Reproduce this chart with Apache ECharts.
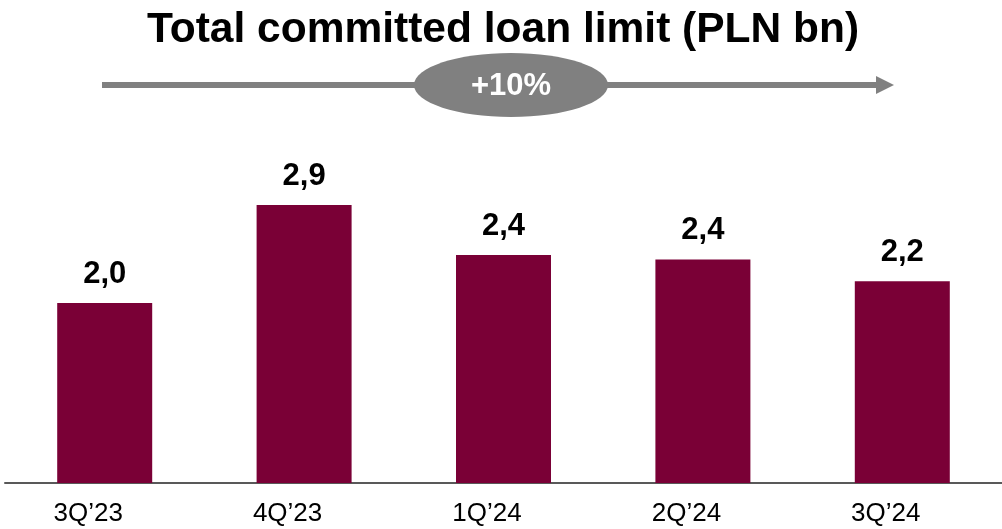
<!DOCTYPE html>
<html>
<head>
<meta charset="utf-8">
<title>Total committed loan limit (PLN bn)</title>
<script src="https://cdn.jsdelivr.net/npm/echarts@6/dist/echarts.min.js"></script>
<style>
  html, body { margin: 0; padding: 0; background: #ffffff; }
  #chart { width: 1002px; height: 529px; }
</style>
</head>
<body>
<div id="chart"></div>
<script>
// Quarterly committed loan limit, PLN bn
const quarters = ['3Q\u201923', '4Q\u201923', '1Q\u201924', '2Q\u201924', '3Q\u201924'];
const loanLimit = [2.0, 2.9, 2.44, 2.4, 2.2];
const growthLabel = '+10%';

const FONT = '"Liberation Sans", Arial, Helvetica, sans-serif';
const BAR_COLOR = '#7a0036';
const ARROW_COLOR = '#808080';

const fmt = v => v.toFixed(1).replace('.', ',');

const chart = echarts.init(document.getElementById('chart'), null, { renderer: 'canvas' });

chart.setOption({
  animation: false,
  backgroundColor: '#ffffff',
  title: {
    text: 'Total committed loan limit (PLN bn)',
    left: 498,
    top: 4,
    textAlign: 'center',
    textStyle: { fontFamily: FONT, fontSize: 42.5, fontWeight: 'bold', color: '#000000' }
  },
  grid: { left: 5, right: -3, top: 194, bottom: 46, containLabel: false },
  xAxis: {
    type: 'category',
    data: quarters,
    axisLine: { show: true, lineStyle: { color: '#595959', width: 2 } },
    axisTick: { show: false },
    axisLabel: {
      margin: 18,
      padding: [0, 33, 0, 0],
      fontFamily: FONT,
      fontSize: 26,
      color: '#000000'
    }
  },
  yAxis: {
    type: 'value',
    min: 0.35,
    max: 3.0,
    show: false,
    splitLine: { show: false }
  },
  series: [{
    type: 'bar',
    data: loanLimit,
    barWidth: 95,
    itemStyle: { color: BAR_COLOR },
    label: {
      show: true,
      position: 'top',
      distance: 13,
      formatter: p => fmt(p.value),
      fontFamily: FONT,
      fontSize: 31,
      fontWeight: 'bold',
      color: '#000000'
    }
  }],
  graphic: [
    // growth arrow across the top
    {
      type: 'line',
      shape: { x1: 102, y1: 85, x2: 878, y2: 85 },
      style: { stroke: ARROW_COLOR, lineWidth: 6 }
    },
    {
      type: 'polygon',
      shape: { points: [[876, 76], [894, 85], [876, 94]] },
      style: { fill: ARROW_COLOR }
    },
    {
      type: 'ellipse',
      shape: { cx: 511, cy: 85, rx: 97, ry: 32 },
      style: { fill: ARROW_COLOR }
    },
    {
      type: 'text',
      x: 511,
      y: 86,
      style: {
        text: growthLabel,
        fill: '#ffffff',
        font: 'bold 31px ' + FONT,
        align: 'center',
        verticalAlign: 'middle'
      }
    }
  ]
});
</script>
</body>
</html>
